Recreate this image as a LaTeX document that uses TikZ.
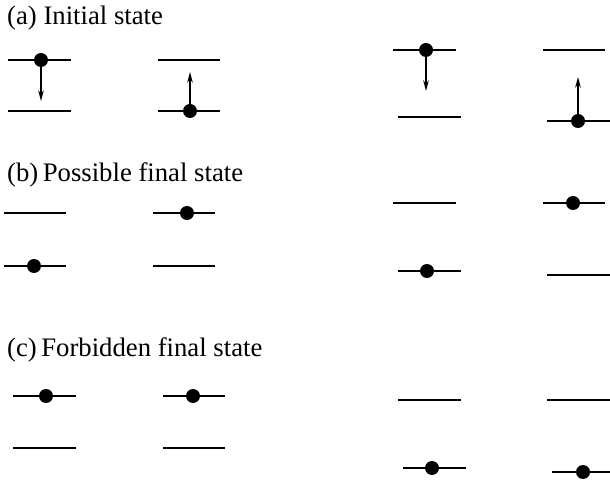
\documentclass[tikz,border=0pt]{standalone}
\usepackage{fontspec}
\setmainfont{Liberation Serif}
\usetikzlibrary{arrows.meta}

\begin{document}
\begin{tikzpicture}[x=0.03cm,y=-0.03cm,
  level/.style={line width=1.6pt},
  electron/.style={circle,fill,inner sep=0pt,minimum size=0.42cm},
  hop/.style={-{Stealth[length=0.32cm,width=0.17cm]},line width=1.1pt},
  caption/.style={anchor=base west,inner sep=0pt,font=\fontsize{22.8}{26}\selectfont}]
\useasboundingbox (0,0) rectangle (610,483);

% captions of the three rows
\node[caption] (capa) at (7,25) {(a) Initial state};
\node[caption] (capb) at (7,182) {(b)\,Possible final state};
\node[caption] (capc) at (7,357) {(c)\,Forbidden final state};

% energy levels
\foreach \xa/\xb/\y in {8/71/60, 8/71/111, 158/220/60, 158/220/111,
    393/456/50, 398/461/117, 543/605/50, 547/610/121,
    4/66/213, 4/66/266, 153/215/213, 153/215/266,
    393/456/203, 398/461/271, 543/605/203, 547/610/275,
    13/76/396, 13/76/448, 163/225/396, 163/225/448,
    398/461/400, 403/466/468, 547/610/400, 552/610/472}
  \draw[level] (\xa,\y) -- (\xb,\y);

% electrons
\foreach \name/\x/\y in {ea/41/60, eb/190/111, ec/426/50, ed/578/121,
    ee/34/266, ef/187/213, eg/427/271, eh/573/203,
    ei/46/396, ej/193/396, ek/432/468, el/583/472}
  \node[electron] (\name) at (\x,\y) {};

% transitions
\coordinate (ta) at (41,101);
\coordinate (tb) at (190,72);
\coordinate (tc) at (426,91);
\coordinate (td) at (578,77);
\draw[hop] (ea) -- (ta);
\draw[hop] (eb) -- (tb);
\draw[hop] (ec) -- (tc);
\draw[hop] (ed) -- (td);
\end{tikzpicture}
\end{document}
